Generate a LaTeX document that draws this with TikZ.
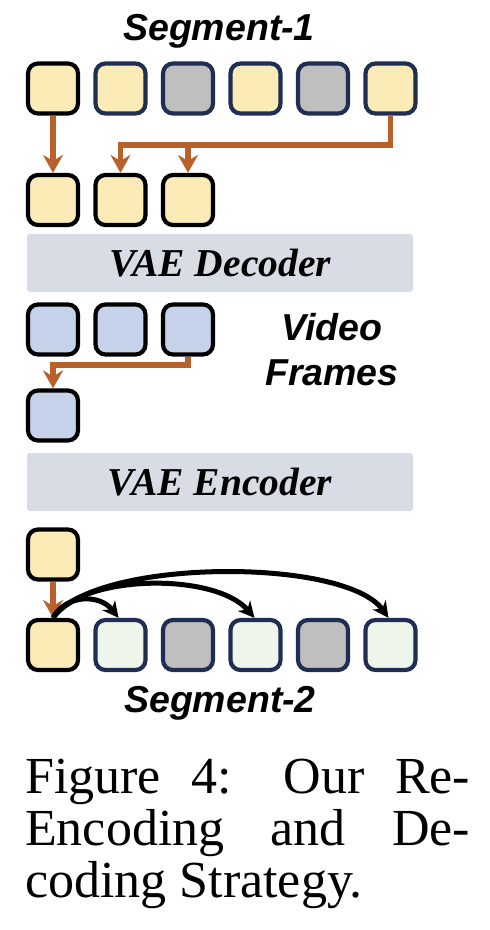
\documentclass[tikz,border=0pt]{standalone}
\usepackage{fontspec}
\setmainfont{Liberation Serif}
\newfontfamily\headfont{Liberation Sans}
\usetikzlibrary{arrows.meta}

\definecolor{latyellow}{HTML}{FBEBB6}
\definecolor{navy}{HTML}{1F2E52}
\definecolor{maskgray}{HTML}{BFBFBF}
\definecolor{frameblue}{HTML}{C6D1EA}
\definecolor{newgreen}{HTML}{EEF5EA}
\definecolor{barfill}{HTML}{D8DCE4}
\definecolor{copyorange}{HTML}{B8612B}

\begin{document}
\begin{tikzpicture}[
  x=1pt,
  y=-1pt,
  every node/.style={inner sep=0pt},
  tok/.style={draw, line width=4.2pt, rounded corners=10pt, minimum size=50pt},
  kept/.style={tok, fill=latyellow, draw=black},
  latent/.style={tok, fill=latyellow, draw=navy},
  masked/.style={tok, fill=maskgray, draw=navy},
  fresh/.style={tok, fill=newgreen, draw=navy},
  frame/.style={tok, fill=frameblue, draw=black},
  vaebar/.style={fill=barfill, rounded corners=3pt, minimum width=386pt, minimum height=58pt,
    font=\fontsize{39.5}{46}\selectfont\bfseries\itshape},
  title/.style={font=\headfont\fontsize{37.5}{44}\selectfont\bfseries\itshape, anchor=base},
  copyarr/.style={draw=copyorange, line width=5.5pt, -{Stealth[length=18pt,width=20pt,inset=6pt]}},
  refarr/.style={draw=black, line width=5pt, -{Stealth[length=16pt,width=16pt,inset=5pt]}}
]
\useasboundingbox (0,0) rectangle (490,930);

% segment 1
\node[title] (seg1) at (219,40.5) {Segment-1};
\node[kept] (t1) at (53,88.5) {};
\node[latent] (t2) at (120.5,88.5) {};
\node[masked] (t3) at (188,88.5) {};
\node[latent] (t4) at (255.5,88.5) {};
\node[masked] (t5) at (323,88.5) {};
\node[latent] (t6) at (390.5,88.5) {};

\node[kept] (k1) at (53,200) {};
\node[kept] (k2) at (120.5,200) {};
\node[kept] (k3) at (188,200) {};

\coordinate (j1) at (120.5,145);
\draw[copyarr] (t1.south) -- (k1.north);
\draw[copyarr] (t6.south) |- (j1) -- (k2.north);
\draw[copyarr] (j1 -| k3.north) -- (k3.north);

\node[vaebar] (dec) at (220,263) {VAE Decoder};

% decoded frames
\node[frame] (f1) at (53,329.5) {};
\node[frame] (f2) at (120.5,329.5) {};
\node[frame] (f3) at (188,329.5) {};
\node[frame] (f4) at (53,415.5) {};
\node[title] (vid) at (332,340) {Video};
\node[title] (frm) at (332,385) {Frames};

\coordinate (j2) at (53,365);
\draw[copyarr] (f3.south) |- (j2) -- (f4.north);

\node[vaebar] (enc) at (220,482) {VAE Encoder};

% segment 2
\node[kept] (c1) at (53,554.5) {};
\node[kept] (b1) at (53,645) {};
\node[fresh] (b2) at (120.5,645) {};
\node[masked] (b3) at (188,645) {};
\node[fresh] (b4) at (255.5,645) {};
\node[masked] (b5) at (323,645) {};
\node[fresh] (b6) at (390.5,645) {};
\node[title] (seg2) at (220,712) {Segment-2};

\draw[copyarr] (c1.south) -- (b1.north);
\draw[refarr] (b1.north) .. controls (66,594) and (100,594) .. ([xshift=-2pt]b2.north);
\draw[refarr] (b1.north) .. controls (82,574) and (215,572) .. ([xshift=-1pt]b4.north);
\draw[refarr] (b1.north) .. controls (95,558) and (345,557) .. ([xshift=-2pt]b6.north);

% caption
\begin{scope}[every node/.style={anchor=base west, inner sep=0pt, font=\fontsize{52}{52}\selectfont}]
\node (cap1) at (25,793) {\makebox[445pt][s]{Figure 4: Our Re-}};
\node (cap2) at (25,845) {\makebox[445pt][s]{Encoding and De-}};
\node (cap3) at (25,897) {coding Strategy.};
\end{scope}
\end{tikzpicture}
\end{document}
